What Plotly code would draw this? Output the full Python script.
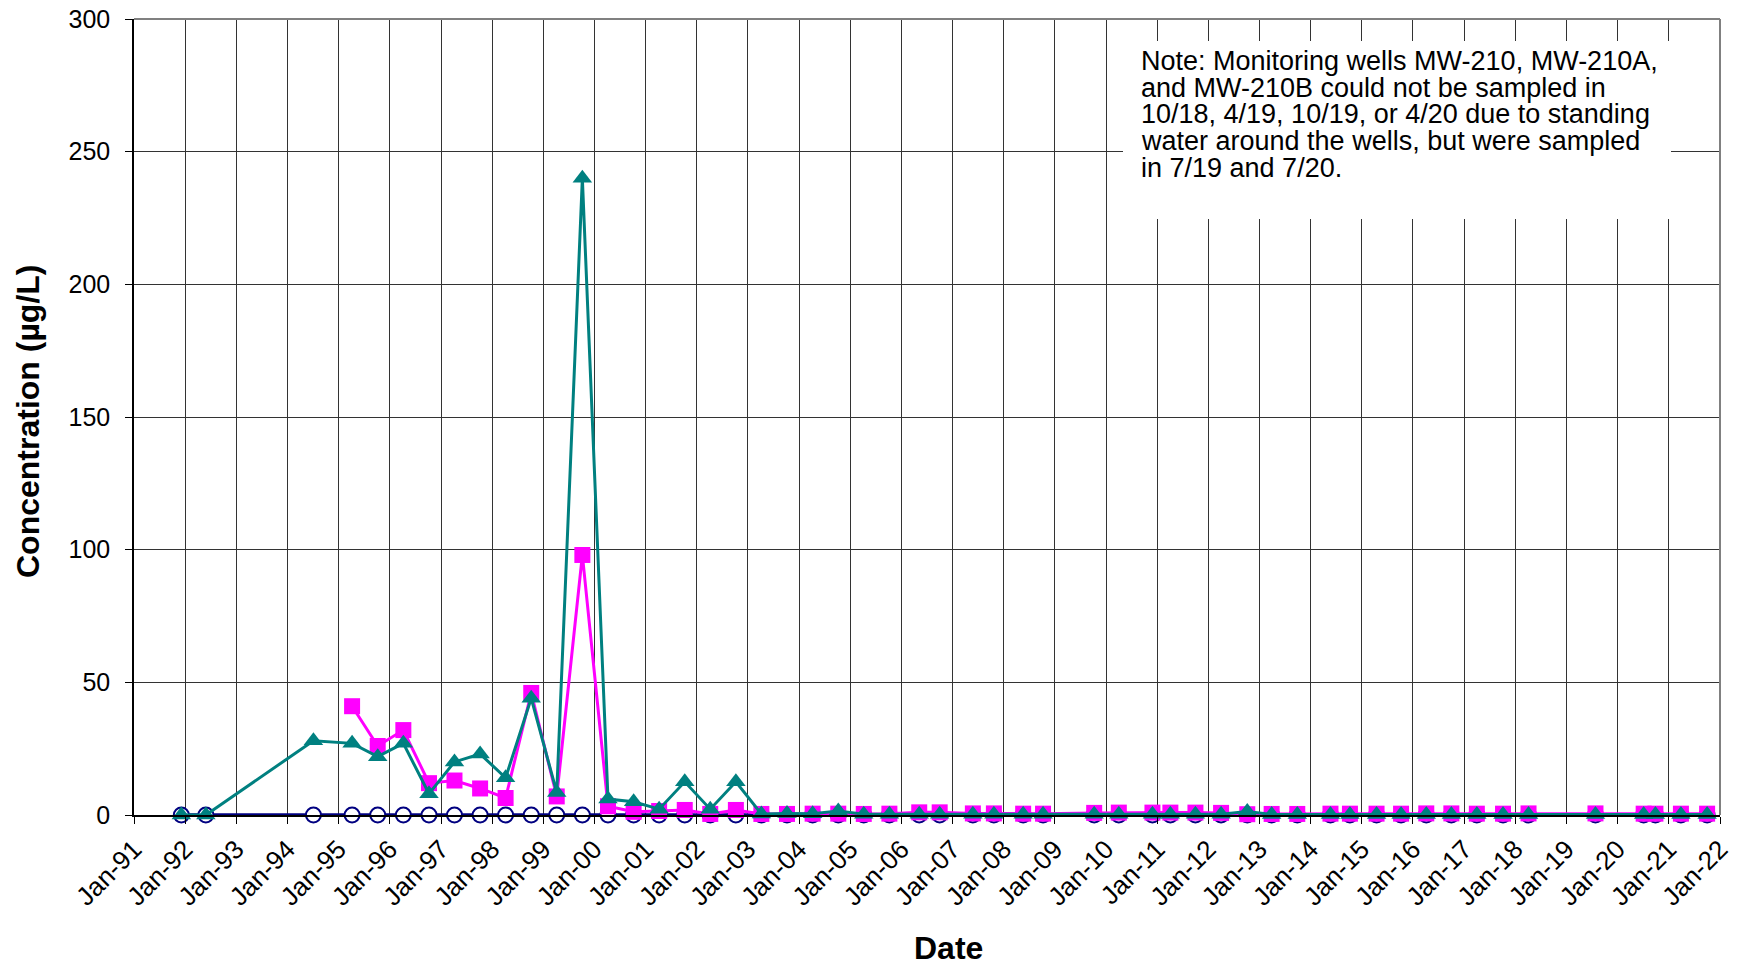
import plotly.graph_objects as go

# ---------------- data ----------------
dates = [
    "1991-12-05", "1992-05-28", "1994-07-05",
    "1995-04-07", "1995-10-07", "1996-04-07", "1996-10-07", "1997-04-07", "1997-10-07",
    "1998-04-07", "1998-10-07", "1999-04-07", "1999-10-07", "2000-04-07", "2000-10-07",
    "2001-04-07", "2001-10-07", "2002-04-07", "2002-10-07", "2003-04-07", "2003-10-07",
    "2004-04-07", "2004-10-07", "2005-04-07", "2005-10-07",
    "2006-05-08", "2006-10-01", "2007-05-26", "2007-10-23", "2008-05-19", "2008-10-08",
    "2009-10-08", "2010-04-02", "2010-11-28", "2011-04-05", "2011-10-01", "2012-04-01",
    "2012-10-05", "2013-03-28", "2013-09-27",
    "2014-05-22", "2014-10-08", "2015-04-16", "2015-10-08", "2016-04-05", "2016-10-01",
    "2017-04-01", "2017-10-05", "2018-04-05",
    "2019-07-27", "2020-07-05", "2020-09-27", "2021-03-28", "2021-10-01",
]

mw210 = [0] * len(dates)

mw210a = [None, None, None,
          41, 26, 32, 12, 13, 10,
          6.4, 46, 7, 98, 3.3, 1.2,
          1.5, 1.9, 0.4, 1.9, 0.4, 0.4,
          0.5, 0.5, 0.4, 0.5,
          1.0, 1.0, 0.6, 0.6, 0.5, 0.5,
          0.8, 0.9, 0.9, 0.9, 0.9, 0.8,
          0.3, 0.4, 0.4,
          0.5, 0.5, 0.5, 0.5, 0.6, 0.6,
          0.5, 0.5, 0.6,
          0.6, 0.5, 0.5, 0.5, 0.5]

mw210b = [0, 0, 28,
          27, 22, 27, 8, 20, 23,
          14, 44, 8.5, 240, 6, 5,
          2.2, 12.5, 2.2, 12.5, 0.4, 0.6,
          0.5, 1.5, 0.3, 0.3,
          0.3, 0.3, 0.3, 0.3, 0.3, 0.3,
          0.3, 0.3, 0.3, 0.3, 0.3, 0.3,
          1.3, 0.2, 0.2,
          0.2, 0.2, 0.2, 0.2, 0.2, 0.2,
          0.2, 0.2, 0.2,
          0.2, 0.2, 0.2, 0.2, 0.2]

y_ticks = [0, 50, 100, 150, 200, 250, 300]

note_lines = [
    "Note: Monitoring wells MW-210, MW-210A,",
    "and MW-210B could not be sampled in",
    "10/18, 4/19, 10/19, or 4/20 due to standing",
    "water around the wells, but were sampled",
    "in 7/19 and 7/20.",
]

FONT = "Liberation Sans, Arial, sans-serif"

# ---------------- figure ----------------
fig = go.Figure()

fig.add_trace(go.Scatter(
    x=dates, y=mw210, name="MW-210", mode="lines+markers",
    line=dict(color="#000080", width=3.5),
    marker=dict(symbol="circle", size=15, color="white",
                line=dict(color="#000080", width=2)),
    cliponaxis=False,
))
fig.add_trace(go.Scatter(
    x=dates, y=mw210a, name="MW-210A", mode="lines+markers",
    line=dict(color="#FF00FF", width=3),
    marker=dict(symbol="square", size=16, color="#FF00FF",
                line=dict(color="#FF00FF", width=0)),
    connectgaps=False, cliponaxis=False,
))
fig.add_trace(go.Scatter(
    x=dates, y=mw210b, name="MW-210B", mode="lines+markers",
    line=dict(color="#008080", width=3),
    marker=dict(symbol="triangle-up", size=17, color="#008080",
                line=dict(color="#008080", width=0)),
    cliponaxis=False,
))

# page offset of the figure div (browser body margin)
OFF = 8
W, H = 1730, 957
# plot area in page pixels: x 134..1720, y 19..815
L, R, T, B = 134 - OFF, 18, 19 - OFF, 150
pw, ph = W - L - R, H - T - B


def px2paper_x(px):
    return (px - OFF - L) / pw


def px2paper_y(py):
    return (H - B - (py - OFF)) / ph


shapes = [
    # white box behind the note
    dict(type="rect", xref="paper", yref="paper",
         x0=px2paper_x(1123), x1=px2paper_x(1671),
         y0=px2paper_y(219), y1=px2paper_y(41),
         fillcolor="white", line=dict(width=0), layer="above"),
    # top / right border of plot area
    dict(type="line", xref="paper", yref="paper", x0=0, x1=1, y0=1, y1=1,
         line=dict(color="#808080", width=2)),
    dict(type="line", xref="paper", yref="paper", x0=1, x1=1, y0=0, y1=1,
         line=dict(color="#808080", width=2)),
]

annotations = []
baselines = [70.0, 96.8, 123.5, 150.3, 177.0]
for line, bl in zip(note_lines, baselines):
    annotations.append(dict(
        xref="paper", yref="paper",
        x=px2paper_x(1139), y=px2paper_y(bl - 9),
        text=line, showarrow=False, xanchor="left", yanchor="middle",
        font=dict(family=FONT, size=27, color="black"),
    ))

annotations.append(dict(
    xref="paper", yref="paper", x=px2paper_x(28), y=px2paper_y(421),
    text="<b>Concentration (µg/L)</b>", textangle=-90, showarrow=False,
    xanchor="center", yanchor="middle",
    font=dict(family=FONT, size=32, color="black"),
))
annotations.append(dict(
    xref="paper", yref="paper", x=px2paper_x(948), y=px2paper_y(948),
    text="<b>Date</b>", showarrow=False,
    xanchor="center", yanchor="middle",
    font=dict(family=FONT, size=32, color="black"),
))

fig.update_layout(
    width=W, height=H,
    margin=dict(l=L, r=R, t=T, b=B, autoexpand=False),
    paper_bgcolor="white", plot_bgcolor="white",
    showlegend=False,
    shapes=shapes,
    annotations=annotations,
    font=dict(family=FONT, color="black"),
)

fig.update_xaxes(
    type="date",
    range=["1991-01-01", "2022-01-01"],
    tick0="1991-01-01", dtick="M12", tickformat="%b-%y",
    tickangle=-45,
    tickfont=dict(family=FONT, size=26, color="black"),
    showgrid=True, gridcolor="#333333", gridwidth=1,
    showline=True, linecolor="black", linewidth=1.5,
    ticks="outside", ticklen=7, tickcolor="black",
    zeroline=False, automargin=False, ticklabeloverflow="allow",
)
fig.update_yaxes(
    range=[0, 300],
    tickvals=y_ticks,
    tickfont=dict(family=FONT, size=25, color="black"),
    showgrid=True, gridcolor="#333333", gridwidth=1,
    showline=True, linecolor="black", linewidth=1.5,
    ticks="outside", ticklen=7, tickcolor="black",
    ticklabelstandoff=10,
    zeroline=False, automargin=False, ticklabeloverflow="allow",
)

fig.write_html("out.html")
